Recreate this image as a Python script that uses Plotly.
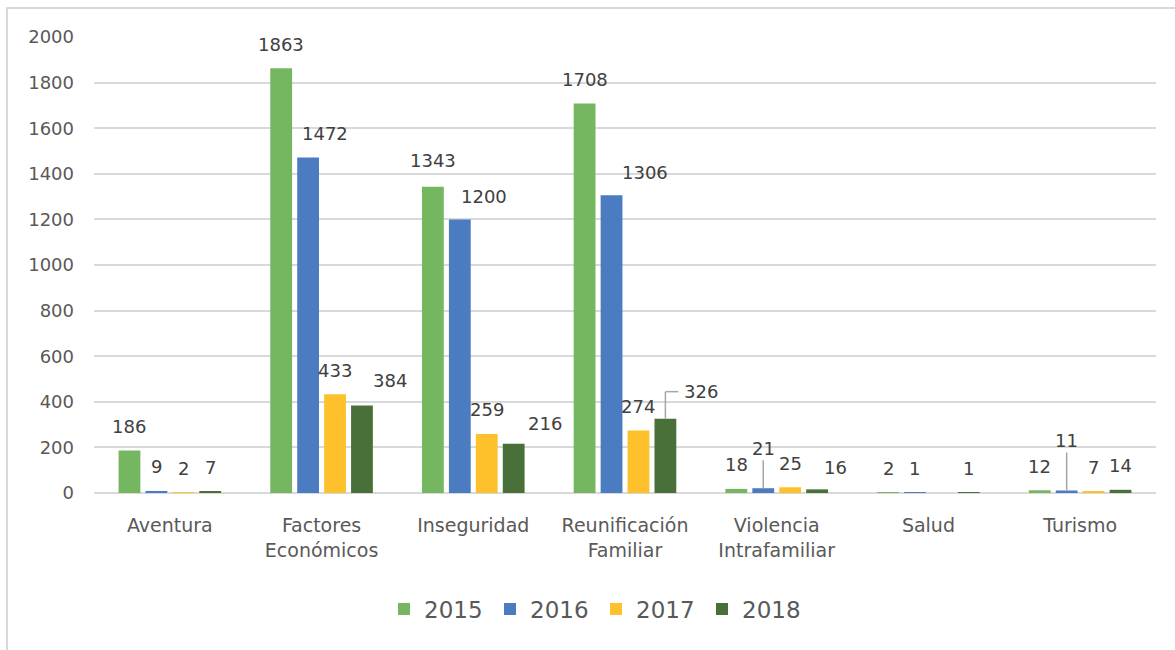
import plotly.graph_objects as go

# Motivos de migración por año
categories = ["Aventura", "Factores<br>Económicos", "Inseguridad", "Reunificación<br>Familiar",
              "Violencia<br>Intrafamiliar", "Salud", "Turismo"]
years = ["2015", "2016", "2017", "2018"]
values_2015 = [186, 1863, 1343, 1708, 18, 2, 12]
values_2016 = [9, 1472, 1200, 1306, 21, 1, 11]
values_2017 = [2, 433, 259, 274, 25, None, 7]
values_2018 = [7, 384, 216, 326, 16, 1, 14]
series = [values_2015, values_2016, values_2017, values_2018]
y_ticks = [0, 200, 400, 600, 800, 1000, 1200, 1400, 1600, 1800, 2000]

colors = ["#74B760", "#4B7BC0", "#FEC12B", "#4A703A"]
TEXT = "#595959"
LABEL = "#404040"
GRID = "#D9D9D9"
FONT = "DejaVu Sans"

# plot-area geometry (pixels)
W, H = 1175, 650
ML, MR, MT, MB = 94, 19, 37, 157
PLOT_W = W - ML - MR
PLOT_H = H - MT - MB
Y_MAX = 2000
PX_PER_UNIT = PLOT_H / Y_MAX
BARGAP = 0.29
SLOT = (1 - BARGAP) / len(series)  # width of one bar slot in category units

# label offsets in pixels (dx, dy) where they differ from the default
label_shift = {
    (1, 1): (17, 24), (3, 1): (28, 25),
    (0, 2): (0, 26), (1, 2): (24, 23), (3, 2): (31, 20),
    (1, 3): (33, 23),
    (3, 4): (18, 22),
}
# labels joined to their bar by a vertical leader: height in pixels
leader_up = {(1, 4): 40, (1, 6): 50}

fig = go.Figure()
for i, (yr, vals) in enumerate(zip(years, series)):
    fig.add_trace(go.Bar(
        x=list(range(len(categories))), y=vals, name=yr,
        marker=dict(color=colors[i], line=dict(width=0)),
    ))

annotations = []
shapes = []
for i, vals in enumerate(series):
    for j, v in enumerate(vals):
        if v is None:
            continue
        xc = j + (i - 1.5) * SLOT
        if (i, j) in leader_up:
            annotations.append(dict(
                x=xc, y=v, text=str(v), showarrow=True, arrowhead=0,
                arrowwidth=1.5, arrowcolor="#A6A6A6", ax=0, ay=-leader_up[(i, j)],
                standoff=0, font=dict(family=FONT, size=18, color=LABEL),
            ))
            continue
        if (i, j) == (3, 3):
            # elbow leader: up from the bar, then right toward the label
            rise = 27 / PX_PER_UNIT
            run = 13 / (PLOT_W / len(categories))
            line = dict(color="#A6A6A6", width=1.5)
            shapes.append(dict(type="line", xref="x", yref="y", x0=xc, x1=xc,
                               y0=v, y1=v + rise, line=line))
            shapes.append(dict(type="line", xref="x", yref="y", x0=xc, x1=xc + run,
                               y0=v + rise, y1=v + rise, line=line))
            dx, dy = 36, 27
        else:
            dx, dy = label_shift.get((i, j), (0, 24))
        annotations.append(dict(
            x=xc, y=v, text=str(v), showarrow=False, xshift=dx, yshift=dy,
            yanchor="middle", xanchor="center",
            font=dict(family=FONT, size=18, color=LABEL),
        ))

# outer chart border
shapes.append(dict(type="rect", xref="paper", yref="paper",
                   x0=(7 - ML) / PLOT_W, x1=1.1,
                   y0=-0.5, y1=(PLOT_H + MT - 8) / PLOT_H,
                   line=dict(color=GRID, width=2), fillcolor="rgba(0,0,0,0)", layer="below"))

fig.update_layout(
    width=W, height=H, autosize=False,
    margin=dict(l=ML, r=MR, t=MT, b=MB, pad=0),
    paper_bgcolor="white", plot_bgcolor="white",
    barmode="group", bargap=BARGAP, bargroupgap=0.19,
    font=dict(family=FONT, color=TEXT),
    xaxis=dict(
        range=[-0.5, len(categories) - 0.5],
        tickmode="array", tickvals=list(range(len(categories))), ticktext=categories,
        tickfont=dict(family=FONT, size=19, color=TEXT),
        showgrid=False, showline=False, zeroline=False, ticks="",
        ticklabelstandoff=19,
    ),
    yaxis=dict(
        range=[0, Y_MAX], tickmode="array", tickvals=y_ticks,
        tickfont=dict(family=FONT, size=18, color=TEXT),
        showgrid=True, gridcolor=GRID, gridwidth=2,
        zeroline=True, zerolinecolor=GRID, zerolinewidth=2,
        showline=False, ticks="", ticklabelstandoff=19,
    ),
    legend=dict(
        orientation="h", x=(384 - ML) / PLOT_W, xanchor="left",
        y=(PLOT_H - (609 - MT)) / PLOT_H, yanchor="middle",
        font=dict(family=FONT, size=23, color=TEXT),
        entrywidth=61, entrywidthmode="pixels", itemwidth=30,
        bgcolor="rgba(0,0,0,0)",
    ),
    annotations=annotations,
    shapes=shapes,
)

fig.write_html("out.html")
